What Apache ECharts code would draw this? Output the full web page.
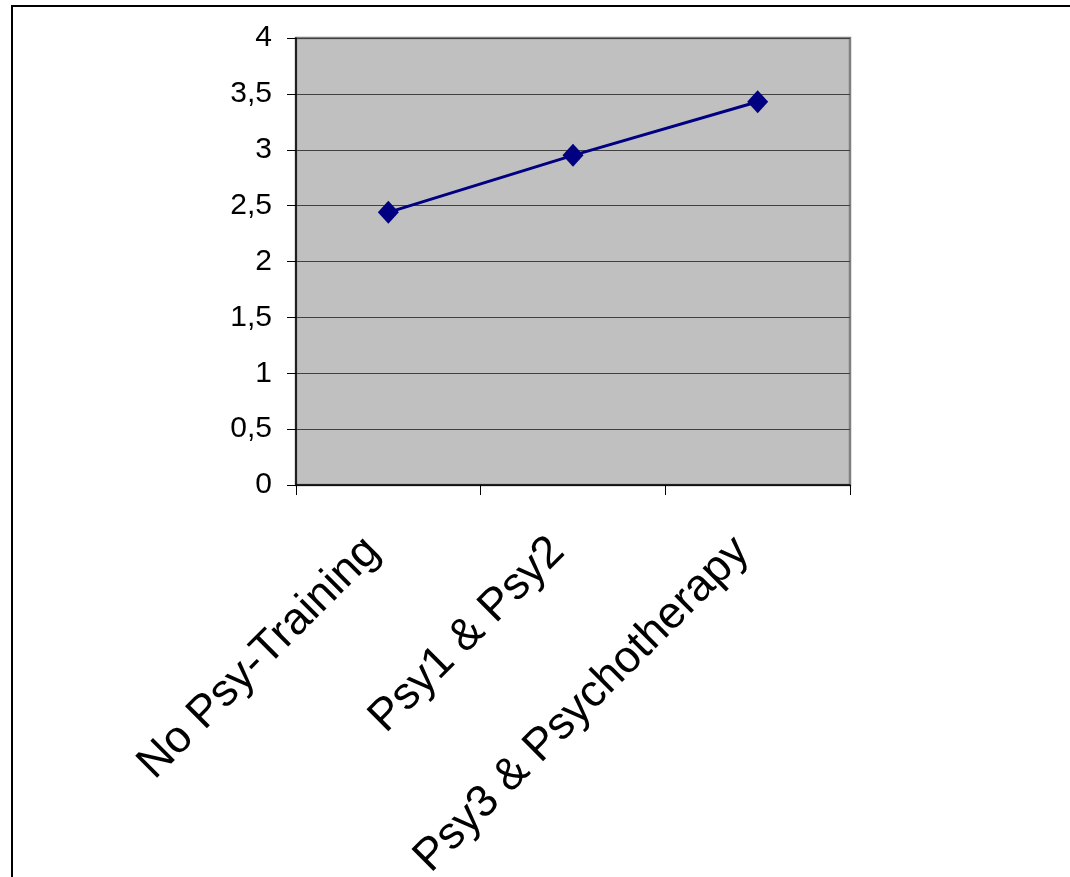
<!DOCTYPE html>
<html>
<head>
<meta charset="utf-8">
<script src="https://cdn.jsdelivr.net/npm/echarts@6/dist/echarts.min.js"></script>
<style>
html,body{margin:0;padding:0;background:#fff;}
#chart{width:1070px;height:877px;}
</style>
</head>
<body>
<div id="chart"></div>
<script>
var categories = ['No Psy-Training', 'Psy1 & Psy2', 'Psy3 & Psychotherapy'];
var values = [2.44, 2.95, 3.43];

var chart = echarts.init(document.getElementById('chart'));
chart.setOption({
  animation: false,
  backgroundColor: '#ffffff',
  graphic: [{
    type: 'rect',
    shape: {x: 12, y: 6, width: 1100, height: 900},
    style: {fill: 'none', stroke: '#000', lineWidth: 2},
    silent: true
  }],
  grid: {
    left: 296, top: 38, right: 220, bottom: 392,
    containLabel: false,
    outerBoundsMode: 'none',
    show: true, backgroundColor: '#C0C0C0', borderColor: '#808080', borderWidth: 2.5
  },
  xAxis: {
    type: 'category',
    data: categories,
    boundaryGap: true,
    axisLine: {lineStyle: {color: '#000', width: 1.5}},
    axisTick: {show: true, length: 10, lineStyle: {color: '#000'}},
    axisLabel: {
      rotate: 45, fontSize: 45, color: '#000', fontFamily: 'Liberation Sans, Arial, sans-serif',
      margin: 44, interval: 0, padding: [0, 22, 0, 0]
    },
    splitLine: {show: false}
  },
  yAxis: {
    type: 'value',
    min: 0, max: 4, interval: 0.5,
    axisLine: {show: true, lineStyle: {color: '#000', width: 1.5}},
    axisTick: {show: true, length: 9, lineStyle: {color: '#000'}},
    axisLabel: {
      fontSize: 30, color: '#000', fontFamily: 'Liberation Sans, Arial, sans-serif', margin: 24,
      formatter: function (v) { return String(v).replace('.', ','); }
    },
    splitLine: {show: true, lineStyle: {color: '#404040', width: 1}}
  },
  series: [{
    type: 'line',
    data: values,
    symbol: 'diamond',
    symbolSize: [21, 23],
    lineStyle: {color: '#000080', width: 3},
    itemStyle: {color: '#000080'}
  }]
});
</script>
</body>
</html>
